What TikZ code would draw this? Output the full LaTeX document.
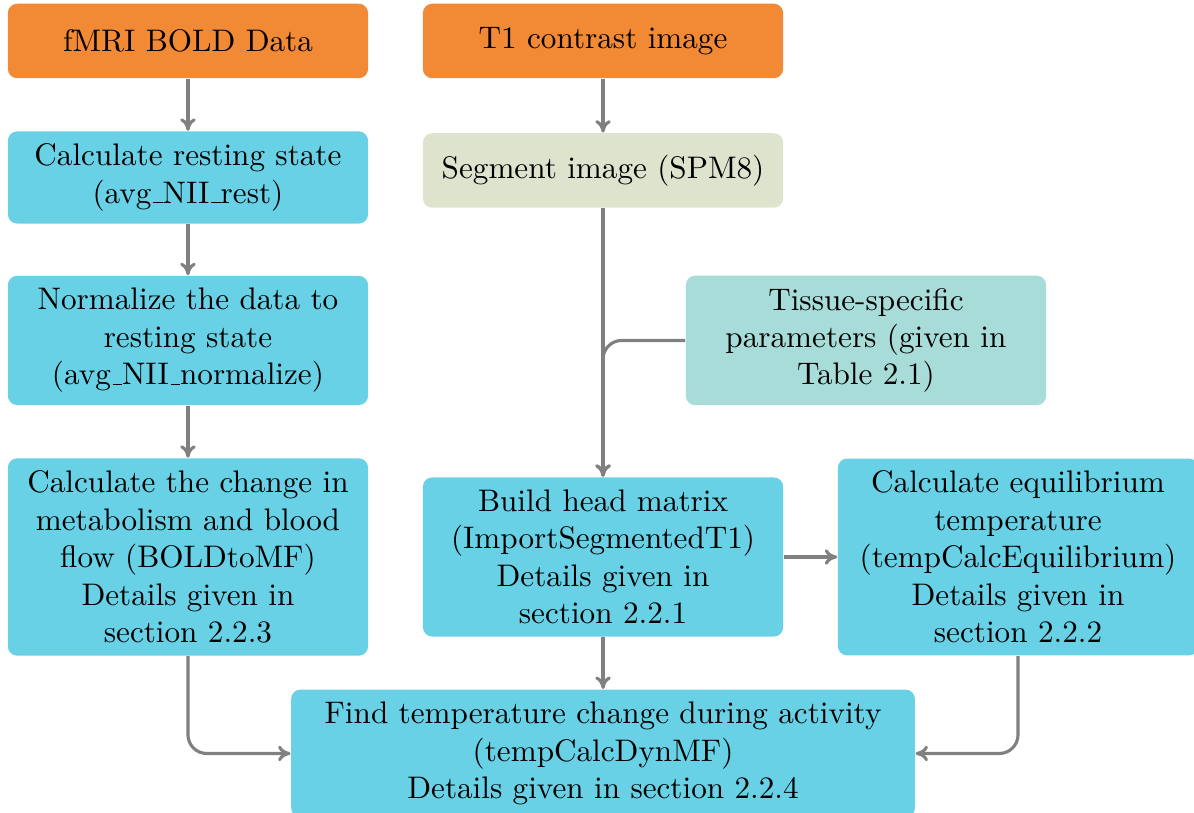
\documentclass[tikz,border=0pt]{standalone}
\usepackage{tikz}
\usepackage{color}
\usetikzlibrary{arrows.meta}

\definecolor{dataorange}{RGB}{242,137,52}
\definecolor{stepcyan}{RGB}{104,209,230}
\definecolor{segbeige}{RGB}{222,227,206}
\definecolor{tissueteal}{RGB}{167,220,216}

% low underscore as in the old text fonts
\newcommand{\lowbar}{\leavevmode\kern.06em\vbox{\hrule width.3em}}

\begin{document}
\begin{tikzpicture}[
		box/.style={rounded corners=3pt, inner sep=4pt, text width=3.78cm, align=center, minimum height=0.84cm},
		inbox/.style={box, fill=dataorange},
		calcbox/.style={box, fill=stepcyan},
		arr/.style={-{To[length=4pt,width=5pt]}, gray, line width=1pt, rounded corners=6pt}
	]
		\useasboundingbox (0,0) rectangle (13.46,-9.165);

		\node[inbox] (fmri) at (2.119,-0.462) {fMRI BOLD Data};
		\node[inbox] (t1) at (6.798,-0.462) {T1 contrast image};

		\node[calcbox] (rest) at (2.119,-2.001) {Calculate resting state\\(avg\lowbar NII\lowbar rest)};
		\node[box, fill=segbeige] (seg) at (6.798,-1.922) {Segment image (SPM8)};

		\node[calcbox] (norm) at (2.119,-3.838) {Normalize the data to\\resting state\\(avg\lowbar NII\lowbar normalize)};
		\node[box, fill=tissueteal] (tissue) at (9.762,-3.838) {Tissue-specific\\parameters (given in\\Table 2.1)};

		\node[calcbox] (change) at (2.119,-6.279) {Calculate the change in\\metabolism and blood\\flow (BOLDtoMF)\\Details given in\\section 2.2.3};
		\node[calcbox] (build) at (6.798,-6.279) {Build head matrix\\(ImportSegmentedT1)\\Details given in\\section 2.2.1};
		\node[calcbox] (equil) at (11.476,-6.279) {Calculate equilibrium\\temperature\\(tempCalcEquilibrium)\\Details given in\\section 2.2.2};

		\node[calcbox, text width=6.75cm] (find) at (6.798,-8.494) {Find temperature change during activity\\(tempCalcDynMF)\\Details given in section 2.2.4};

		\draw[arr] (fmri) -- (rest);
		\draw[arr] (rest) -- (norm);
		\draw[arr] (norm) -- (change);
		\draw[arr] (t1) -- (seg);
		\draw[arr] (seg) -- (build);
		\draw[arr] (tissue.west) -| (build.north);
		\draw[arr] (build) -- (equil);
		\draw[arr] (build) -- (find);
		\draw[arr] (change.south) |- (find.west);
		\draw[arr] (equil.south) |- (find.east);
	\end{tikzpicture}
\end{document}
